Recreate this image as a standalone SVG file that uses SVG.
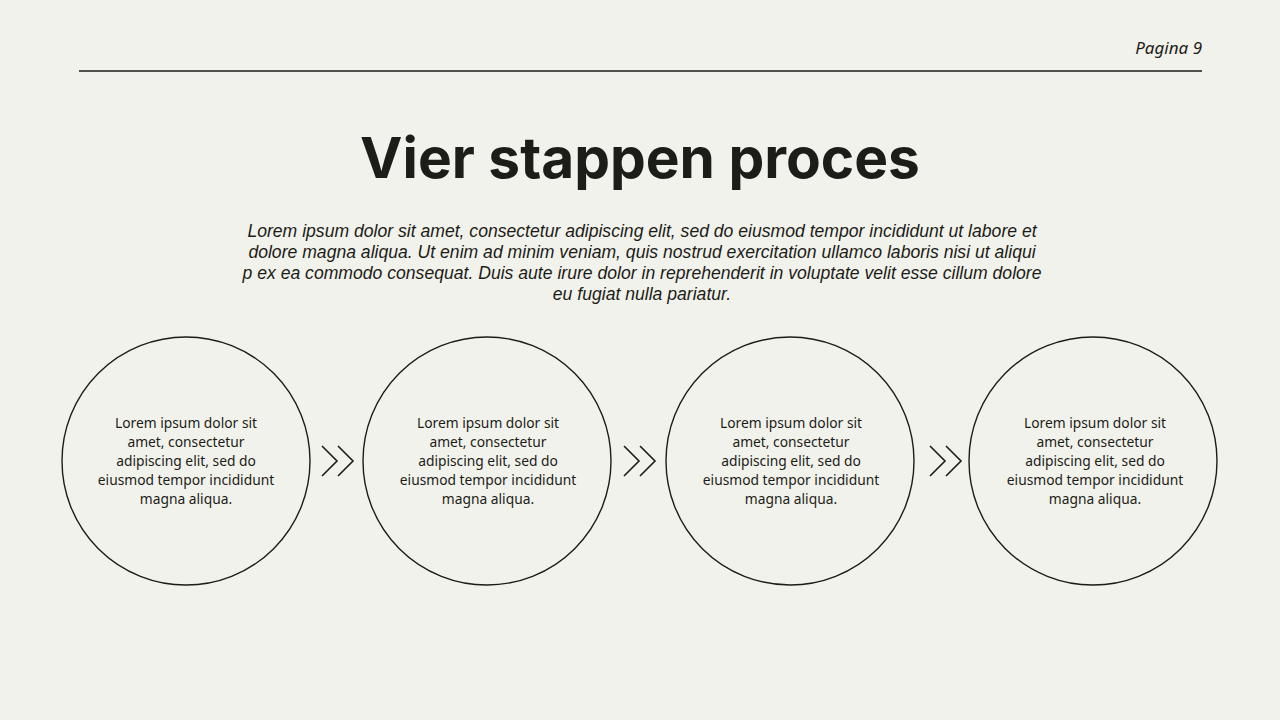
<svg xmlns="http://www.w3.org/2000/svg" width="1280" height="720" viewBox="0 0 1280 720">
<style>
.ink{fill:#1c1c18}
.circ{fill:none;stroke:#1c1c18;stroke-width:1.4}
.chev{fill:none;stroke:#1c1c18;stroke-width:1.6}
.body{font-family:"Liberation Sans",Arial,sans-serif;font-style:italic;font-size:17.6px;fill:#1c1c18}
.node{font-family:"Noto Sans","Open Sans",sans-serif;font-size:13.8px;fill:#1c1c18}
</style>
<rect width="1280" height="720" fill="#f2f2ec"/>
<g id="header">
<text x="1202" y="54" text-anchor="end" font-family="Noto Sans, sans-serif" font-style="italic" font-size="17" class="ink">Pagina 9</text>
<line x1="79" y1="71" x2="1202" y2="71" stroke="#1c1c18" stroke-width="1.5"/>
</g>
<g id="title">
<text x="640" y="178" text-anchor="middle" font-family="Inter, 'Liberation Sans', sans-serif" font-weight="700" font-size="56.8" class="ink">Vier stappen proces</text>
</g>
<g id="intro" text-anchor="middle" class="body">
<text x="642" y="237">Lorem ipsum dolor sit amet, consectetur adipiscing elit, sed do eiusmod tempor incididunt ut labore et</text>
<text x="642" y="258">dolore magna aliqua. Ut enim ad minim veniam, quis nostrud exercitation ullamco laboris nisi ut aliqui</text>
<text x="642" y="279">p ex ea commodo consequat. Duis aute irure dolor in reprehenderit in voluptate velit esse cillum dolore</text>
<text x="642" y="300">eu fugiat nulla pariatur.</text>
</g>
<g id="step1">
<circle cx="186" cy="461" r="124" class="circ"/>
<text text-anchor="middle" class="node"><tspan x="186" y="428">Lorem ipsum dolor sit</tspan><tspan x="186" y="447">amet, consectetur</tspan><tspan x="186" y="466">adipiscing elit, sed do</tspan><tspan x="186" y="485">eiusmod tempor incididunt</tspan><tspan x="186" y="504">magna aliqua.</tspan></text>
</g>
<g id="step2">
<circle cx="487" cy="461" r="124" class="circ"/>
<text text-anchor="middle" class="node"><tspan x="488" y="428">Lorem ipsum dolor sit</tspan><tspan x="488" y="447">amet, consectetur</tspan><tspan x="488" y="466">adipiscing elit, sed do</tspan><tspan x="488" y="485">eiusmod tempor incididunt</tspan><tspan x="488" y="504">magna aliqua.</tspan></text>
</g>
<g id="step3">
<circle cx="790" cy="461" r="124" class="circ"/>
<text text-anchor="middle" class="node"><tspan x="791" y="428">Lorem ipsum dolor sit</tspan><tspan x="791" y="447">amet, consectetur</tspan><tspan x="791" y="466">adipiscing elit, sed do</tspan><tspan x="791" y="485">eiusmod tempor incididunt</tspan><tspan x="791" y="504">magna aliqua.</tspan></text>
</g>
<g id="step4">
<circle cx="1093" cy="461" r="124" class="circ"/>
<text text-anchor="middle" class="node"><tspan x="1095" y="428">Lorem ipsum dolor sit</tspan><tspan x="1095" y="447">amet, consectetur</tspan><tspan x="1095" y="466">adipiscing elit, sed do</tspan><tspan x="1095" y="485">eiusmod tempor incididunt</tspan><tspan x="1095" y="504">magna aliqua.</tspan></text>
</g>
<g id="connectors">
<polyline points="322,446 337,461 322,476" class="chev"/>
<polyline points="338,446 353,461 338,476" class="chev"/>
<polyline points="624,446 639,461 624,476" class="chev"/>
<polyline points="640,446 655,461 640,476" class="chev"/>
<polyline points="930,446 945,461 930,476" class="chev"/>
<polyline points="946,446 961,461 946,476" class="chev"/>
</g>
</svg>
